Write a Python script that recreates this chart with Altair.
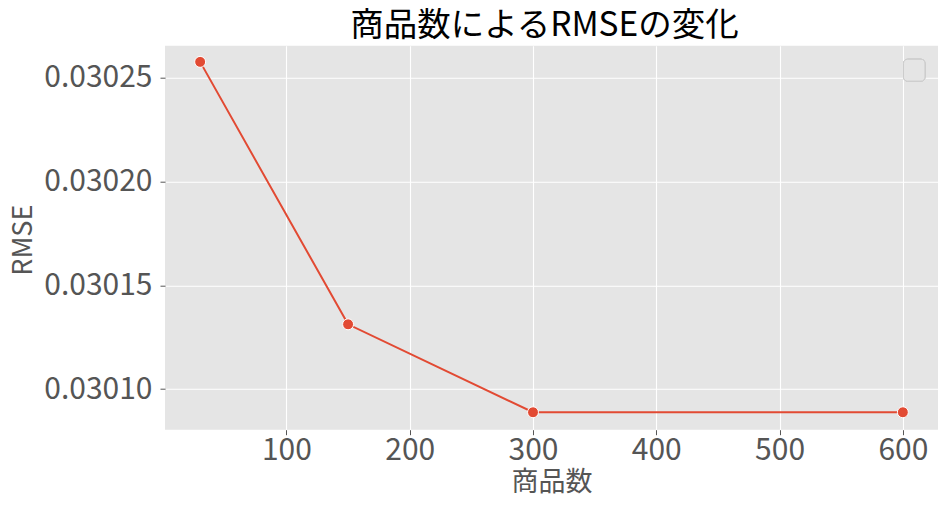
import altair as alt
import pandas as pd

# 商品数 vs RMSE
n_items = [30, 150, 300, 600]
rmse = [0.0302577, 0.0301312, 0.0300888, 0.0300888]
x_ticks = [100, 200, 300, 400, 500, 600]
y_ticks = [0.03010, 0.03015, 0.03020, 0.03025]
title_text = "商品数によるRMSEの変化"

df = pd.DataFrame({"商品数": n_items, "RMSE": rmse})

FONT = "Noto Sans CJK JP"
RED = "#E24A33"
GREY = "#555555"

base = alt.Chart(df).encode(
    x=alt.X(
        "商品数:Q",
        scale=alt.Scale(domain=[1.5, 628.5], nice=False, zero=False),
        axis=alt.Axis(
            values=x_ticks,
            format="d",
            title="商品数",
            titleX=386.5,
            titleY=53,
            titleBaseline="middle",
            titleAlign="center",
        ),
    ),
    y=alt.Y(
        "RMSE:Q",
        scale=alt.Scale(domain=[0.0300804, 0.0302655], nice=False, zero=False),
        axis=alt.Axis(
            values=y_ticks,
            format=".5f",
            title="RMSE",
            titleX=-141.5,
            titleY=194,
            titleAngle=270,
            titleBaseline="middle",
            titleAlign="center",
        ),
    ),
)

line = base.mark_line(color=RED, strokeWidth=2)
points = base.mark_point(
    filled=True, fill=RED, stroke="white", strokeWidth=1, size=120, opacity=1
)

# empty legend box (top right)
legend_box = alt.Chart(df).mark_rect(
    fill="#E5E5E5",
    fillOpacity=0.8,
    stroke="#CCCCCC",
    strokeWidth=1,
    cornerRadius=4,
).encode(
    x=alt.value(738.5), x2=alt.value(760), y=alt.value(13.5), y2=alt.value(35.5)
)

# chart title drawn as text above the plot area
title = alt.Chart(pd.DataFrame({"t": [title_text]})).mark_text(
    font=FONT,
    fontSize=33.5,
    color="black",
    align="center",
    baseline="alphabetic",
).encode(text="t:N", x=alt.value(379.5), y=alt.value(-10))

chart = (
    alt.layer(line, points, legend_box, title)
    .properties(
        width=773,
        height=384,
        autosize=alt.AutoSizeParams(type="none"),
        padding={"left": 157, "top": 37.7, "right": 3, "bottom": 64},
    )
    .configure_view(fill="#E5E5E5", stroke=None)
    .configure_axis(
        labelFont=FONT,
        labelFontSize=30,
        labelColor=GREY,
        titleFont=FONT,
        titleFontSize=27,
        titleColor=GREY,
        titleFontWeight="normal",
        gridColor="white",
        gridWidth=1.1,
        domain=False,
        tickColor=GREY,
        tickSize=5,
        tickWidth=1,
    )
    .configure_axisX(labelPadding=1)
    .configure_axisY(labelPadding=8)
)

chart.save("out.html", embed_options={"renderer": "svg", "actions": False})
